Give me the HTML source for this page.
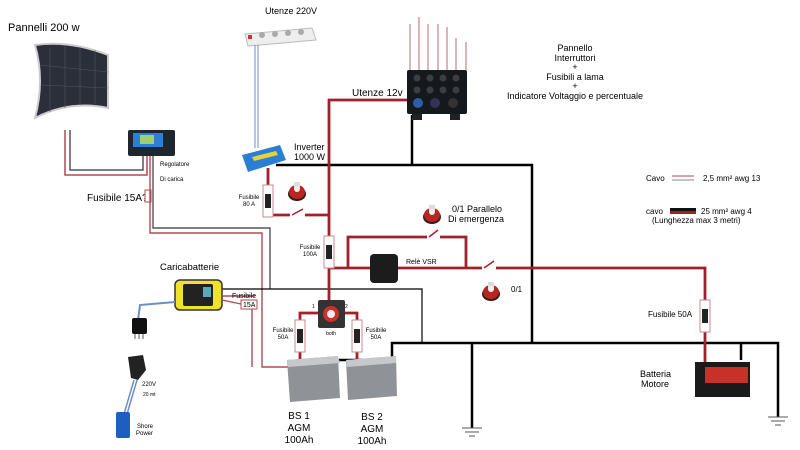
<!DOCTYPE html>
<html><head><meta charset="utf-8"><style>
html,body{margin:0;padding:0;background:#fff;}
svg{display:block;font-family:"Liberation Sans",sans-serif;}
</style></head><body>
<svg width="800" height="450" viewBox="0 0 800 450" xmlns="http://www.w3.org/2000/svg">
<defs>
<g id="knob"><ellipse cx="0" cy="4" rx="9" ry="7" fill="#3a1a1a"/><ellipse cx="0" cy="2" rx="8" ry="7" fill="#b5271f"/><rect x="-3" y="-8" width="6" height="7" fill="#ddd"/><circle cx="0" cy="-1" r="3" fill="#eee"/></g>
<g id="fuse"><rect x="-5" y="0" width="10" height="32" fill="#fff" stroke="#c98a8a" stroke-width="1"/><rect x="-3" y="9" width="6" height="14" fill="#222"/></g>
</defs>

<!-- Solar panel -->
<text x="8" y="31" font-size="11">Pannelli 200 w</text>
<path d="M35,45 Q70,40 108,55 L108,108 Q70,100 35,118 Q45,80 35,45Z" fill="#2a2f3a" stroke="#ccc" stroke-width="2"/>
<g stroke="#556" stroke-width="0.6">
<line x1="50" y1="48" x2="50" y2="112"/><line x1="65" y1="46" x2="65" y2="108"/><line x1="80" y1="47" x2="80" y2="104"/><line x1="95" y1="50" x2="95" y2="104"/>
<line x1="40" y1="65" x2="108" y2="72"/><line x1="42" y1="85" x2="108" y2="88"/>
</g>
<!-- panel wires -->
<polyline points="65,130 65,175 147,175 147,155" fill="none" stroke="#b04a55" stroke-width="1.5"/>
<polyline points="70,130 70,170 143,170 143,155" fill="none" stroke="#555" stroke-width="1.5"/>
<!-- controller -->
<rect x="128" y="130" width="47" height="26" rx="2" fill="#1f2630"/>
<rect x="133" y="133" width="30" height="14" fill="#2f7fd0"/><rect x="140" y="135" width="14" height="9" fill="#9fd070"/>
<text x="160" y="166" font-size="6">Regolatore</text>
<text x="160" y="181" font-size="6">Di carica</text>
<text x="87" y="201" font-size="10">Fusibile 15A?</text>
<rect x="145" y="190" width="6" height="12" fill="#fff" stroke="#b04a55"/>
<polyline points="150,156 150,233 262,233 262,367 300,367" fill="none" stroke="#b04a55" stroke-width="1.4"/>
<polyline points="153,156 153,228 270,228 270,289" fill="none" stroke="#555" stroke-width="1.4"/>

<!-- Utenze 220 -->
<text x="265" y="14" font-size="9">Utenze 220V</text>
<polygon points="245,34 312,28 316,40 248,46" fill="#eee" stroke="#bbb"/>
<rect x="248" y="35" width="4" height="4" fill="#c33"/>
<g fill="#aaa"><circle cx="262" cy="35" r="3"/><circle cx="275" cy="34" r="3"/><circle cx="288" cy="33" r="3"/><circle cx="301" cy="32" r="3"/></g>
<line x1="255" y1="45" x2="255" y2="148" stroke="#6a8fc8" stroke-width="1"/>
<line x1="258" y1="45" x2="258" y2="148" stroke="#6a8fc8" stroke-width="1"/>
<!-- inverter -->
<polygon points="242,155 280,145 286,160 248,172" fill="#2a7fd4"/>
<polygon points="252,157 276,151 278,155 254,161" fill="#e6d23a"/>
<text x="294" y="150" font-size="9">Inverter</text>
<text x="294" y="160" font-size="9">1000 W</text>

<!-- black wires -->
<g fill="none" stroke="#000" stroke-width="2.5">
<polyline points="276,165 532,165 532,343"/>
<line x1="412" y1="115" x2="412" y2="165"/>
<polyline points="328,360 392,360 392,343 778,343 778,417"/>
<line x1="472" y1="343" x2="472" y2="428"/>
<line x1="741" y1="343" x2="741" y2="360"/>
</g>
<g fill="none" stroke="#000" stroke-width="1.2">
<polyline points="222,289 422,289 422,343"/>
</g>
<!-- grounds -->
<g stroke="#555" stroke-width="1">
<line x1="462" y1="428" x2="482" y2="428"/><line x1="465" y1="432" x2="479" y2="432"/><line x1="469" y1="436" x2="475" y2="436"/>
<line x1="768" y1="417" x2="788" y2="417"/><line x1="771" y1="421" x2="785" y2="421"/><line x1="775" y1="425" x2="781" y2="425"/>
</g>

<!-- switch panel -->
<g stroke="#b86a75" stroke-width="1">
<line x1="410" y1="24" x2="410" y2="70"/><line x1="419" y1="17" x2="419" y2="70"/><line x1="428" y1="24" x2="428" y2="70"/><line x1="438" y1="24" x2="438" y2="70"/><line x1="447" y1="27" x2="447" y2="70"/><line x1="456" y1="38" x2="456" y2="70"/><line x1="466" y1="42" x2="466" y2="70"/>
</g>
<rect x="407" y="70" width="60" height="44" rx="2" fill="#15181c"/>
<g fill="#3a3f45"><circle cx="417" cy="78" r="3.5"/><circle cx="430" cy="78" r="3.5"/><circle cx="443" cy="78" r="3.5"/><circle cx="456" cy="78" r="3.5"/><circle cx="417" cy="90" r="3.5"/><circle cx="430" cy="90" r="3.5"/><circle cx="443" cy="90" r="3.5"/><circle cx="456" cy="90" r="3.5"/></g>
<circle cx="418" cy="103" r="5" fill="#2b5fa8"/><circle cx="435" cy="103" r="5" fill="#335"/><circle cx="453" cy="103" r="5" fill="#333"/>
<rect x="412" y="114" width="10" height="6" fill="#222"/><rect x="450" y="114" width="10" height="6" fill="#222"/>
<g font-size="9" text-anchor="middle">
<text x="575" y="51">Pannello</text><text x="575" y="61">Interruttori</text><text x="575" y="70">+</text>
<text x="575" y="80">Fusibili a lama</text><text x="575" y="89">+</text>
<text x="575" y="99">Indicatore Voltaggio e percentuale</text>
</g>

<!-- red main wires -->
<text x="352" y="96" font-size="10">Utenze 12v</text>
<g fill="none" stroke="#a0202e" stroke-width="2.8">
<polyline points="407,100 329,100 329,300"/>
<polyline points="268,168 268,185"/>
<polyline points="268,215 290,215"/><polyline points="305,215 329,215"/>
<polyline points="329,268 370,268"/><polyline points="398,268 482,268"/>
<polyline points="496,268 705,268 705,300"/>
<line x1="705" y1="332" x2="705" y2="362"/>
<polyline points="348,268 348,237 427,237"/>
<polyline points="440,237 466,237 466,268"/>
<polyline points="318,313 300,313 300,320"/><line x1="300" y1="352" x2="300" y2="362"/>
<polyline points="345,313 357,313 357,320"/><line x1="357" y1="352" x2="357" y2="362"/>
</g>
<!-- switches -->
<g stroke="#a0202e" stroke-width="1.5">
<line x1="292" y1="215" x2="303" y2="209"/><line x1="429" y1="237" x2="438" y2="230"/><line x1="484" y1="268" x2="494" y2="261"/>
</g>
<use href="#knob" x="297" y="190"/><use href="#knob" x="432" y="213"/><use href="#knob" x="491" y="290"/>
<text x="452" y="212" font-size="9">0/1 Parallelo</text>
<text x="448" y="222" font-size="9">Di emergenza</text>
<text x="511" y="292" font-size="8">0/1</text>
<!-- fuses -->
<use href="#fuse" x="268" y="185"/>
<text x="249" y="199" font-size="6" text-anchor="middle">Fusibile</text><text x="249" y="206" font-size="6" text-anchor="middle">80 A</text>
<use href="#fuse" x="329" y="236"/>
<text x="310" y="249" font-size="6" text-anchor="middle">Fusibile</text><text x="310" y="256" font-size="6" text-anchor="middle">100A</text>
<use href="#fuse" x="300" y="320"/><use href="#fuse" x="357" y="320"/>
<text x="283" y="332" font-size="6" text-anchor="middle">Fusibile</text><text x="283" y="339" font-size="6" text-anchor="middle">50A</text>
<text x="376" y="332" font-size="6" text-anchor="middle">Fusibile</text><text x="376" y="339" font-size="6" text-anchor="middle">50A</text>
<use href="#fuse" x="705" y="300"/>
<text x="648" y="317" font-size="8">Fusibile 50A</text>
<!-- relay -->
<rect x="370" y="254" width="28" height="29" rx="4" fill="#1c1c1c"/>
<text x="406" y="264" font-size="7">Relè VSR</text>
<!-- battery switch -->
<rect x="318" y="300" width="27" height="28" rx="2" fill="#333"/>
<circle cx="331" cy="314" r="8" fill="#c8322a"/><circle cx="331" cy="314" r="4" fill="#eee"/>
<text x="312" y="308" font-size="5">1</text><text x="345" y="308" font-size="5">2</text>
<text x="331" y="335" font-size="5" text-anchor="middle">both</text>

<!-- batteries -->
<polygon points="287,360 338,356 340,398 290,402" fill="#8f9297"/>
<polygon points="287,360 338,356 340,363 288,367" fill="#c6c8cb"/>
<polygon points="346,360 396,356 397,396 348,400" fill="#8f9297"/>
<polygon points="346,360 396,356 396,363 347,367" fill="#c6c8cb"/>
<g font-size="10" text-anchor="middle"><text x="299" y="419">BS 1</text><text x="299" y="431">AGM</text><text x="299" y="443">100Ah</text>
<text x="372" y="420">BS 2</text><text x="372" y="432">AGM</text><text x="372" y="444">100Ah</text></g>
<!-- engine battery -->
<rect x="695" y="362" width="55" height="35" fill="#1a1a1a"/>
<rect x="705" y="367" width="43" height="16" fill="#c83028"/>
<text x="640" y="377" font-size="9">Batteria</text><text x="641" y="387" font-size="9">Motore</text>

<!-- charger -->
<text x="160" y="270" font-size="9.5">Caricabatterie</text>
<rect x="175" y="280" width="47" height="30" rx="5" fill="#f0e030" stroke="#333" stroke-width="1.5"/>
<rect x="183" y="284" width="30" height="22" rx="2" fill="#222"/><rect x="203" y="287" width="8" height="10" fill="#5ab"/>
<polyline points="222,296 255,296" stroke="#b04a55" stroke-width="1.4" fill="none"/>
<text x="232" y="298" font-size="7">Fusibile</text>
<rect x="241" y="300" width="16" height="9" fill="#fff" stroke="#b04a55"/><text x="243" y="307" font-size="7">15A</text>
<polyline points="222,300 241,304" stroke="#b04a55" stroke-width="1.4" fill="none"/>
<polyline points="252,309 252,367" stroke="#b04a55" stroke-width="1.4" fill="none"/>
<polyline points="175,302 140,305 138,320" stroke="#6a8fc8" stroke-width="2" fill="none"/>
<rect x="132" y="318" width="15" height="16" rx="2" fill="#111"/>
<g stroke="#555" stroke-width="1"><line x1="135" y1="334" x2="135" y2="339"/><line x1="139" y1="334" x2="139" y2="339"/><line x1="143" y1="334" x2="143" y2="339"/></g>
<polygon points="128,357 143,355 146,370 138,380 131,378" fill="#222"/>
<line x1="134" y1="380" x2="124" y2="414" stroke="#6a8fc8" stroke-width="1.5"/>
<line x1="137" y1="380" x2="127" y2="414" stroke="#6a8fc8" stroke-width="1.5"/>
<rect x="116" y="412" width="14" height="26" rx="2" fill="#1f5ec0"/>
<text x="142" y="386" font-size="6">220V</text><text x="143" y="396" font-size="5">20 mt</text>
<text x="137" y="428" font-size="6">Shore</text><text x="136" y="435" font-size="6">Power</text>

<!-- legend -->
<text x="646" y="181" font-size="8">Cavo</text>
<line x1="672" y1="176" x2="694" y2="176" stroke="#b04a55" stroke-width="1"/><line x1="672" y1="180" x2="694" y2="180" stroke="#888" stroke-width="1"/>
<text x="703" y="181" font-size="8">2,5 mm² awg 13</text>
<text x="646" y="214" font-size="8">cavo</text>
<rect x="670" y="208" width="26" height="3" fill="#111"/><rect x="670" y="211" width="26" height="3" fill="#a0202e"/>
<text x="701" y="214" font-size="8">25 mm²  awg 4</text>
<text x="652" y="223" font-size="8">(Lunghezza max 3 metri)</text>
</svg>
</body></html>
